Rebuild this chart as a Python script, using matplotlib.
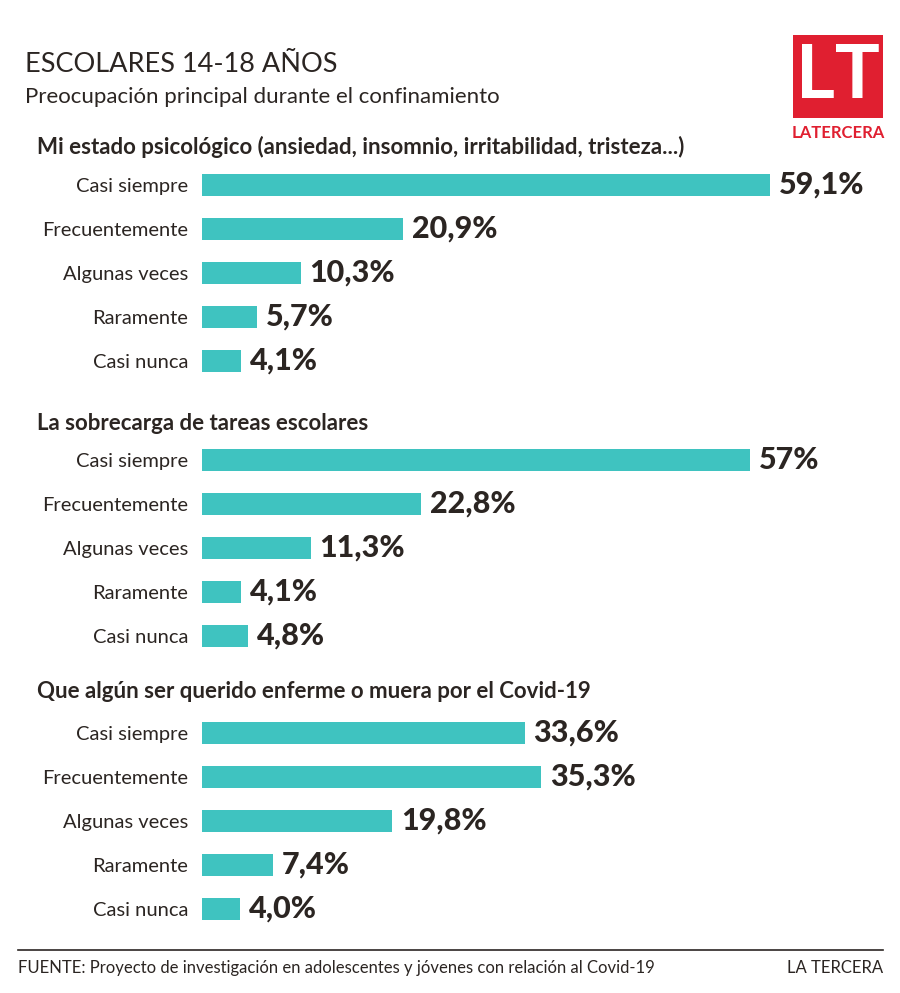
import matplotlib.pyplot as plt
from matplotlib.patches import Rectangle

plt.rcParams['font.family'] = ['Lato', 'DejaVu Sans']

# datos
categorias = ["Casi siempre", "Frecuentemente", "Algunas veces", "Raramente", "Casi nunca"]
grupos = [
    "Mi estado psicológico (ansiedad, insomnio, irritabilidad, tristeza...)",
    "La sobrecarga de tareas escolares",
    "Que algún ser querido enferme o muera por el Covid-19",
]
valores_psico = [59.1, 20.9, 10.3, 5.7, 4.1]
valores_tareas = [57, 22.8, 11.3, 4.1, 4.8]
valores_covid = [33.6, 35.3, 19.8, 7.4, 4.0]
etiquetas_psico = ["59,1%", "20,9%", "10,3%", "5,7%", "4,1%"]
etiquetas_tareas = ["57%", "22,8%", "11,3%", "4,1%", "4,8%"]
etiquetas_covid = ["33,6%", "35,3%", "19,8%", "7,4%", "4,0%"]

valores = [valores_psico, valores_tareas, valores_covid]
etiquetas = [etiquetas_psico, etiquetas_tareas, etiquetas_covid]

TEAL = "#3FC3C0"
TXT = "#2B2522"
ROJO = "#E01F30"

W, H = 900, 993
fig = plt.figure(figsize=(9, 9.93), dpi=100)

def fx(px):
    return px / W

def fy(py):
    return 1 - py / H

# titulo
fig.text(fx(25), fy(65), "ESCOLARES 14-18 AÑOS", fontsize=19.5, color=TXT, va="center")
fig.text(fx(25), fy(97), "Preocupación principal durante el confinamiento", fontsize=16, color=TXT, va="center")

# logo
fig.patches.append(Rectangle((fx(793), fy(118)), fx(90), 83 / H, transform=fig.transFigure,
                             facecolor=ROJO, edgecolor="none"))
fig.text(fx(838), fy(76), "LT", fontsize=54, color="white", ha="center", va="center", fontweight="bold")
fig.text(fx(838), fy(133), "LATERCERA", fontsize=12, color=ROJO, ha="center", va="center", fontweight="bold")

# grupos
tops = [163, 438, 711]
cabeceras = [147, 423, 692]
for g in range(3):
    top = tops[g]
    ax = fig.add_axes([fx(202), fy(top + 220), fx(692), 220 / H])
    y = list(range(len(categorias)))
    ax.barh(y, valores[g], height=0.5, color=TEAL)
    ax.set_xlim(0, 72)
    ax.set_ylim(4.5, -0.5)
    for yi, v, lab in zip(y, valores[g], etiquetas[g]):
        ax.text(v + 0.9, yi, lab, fontsize=22, fontweight="black", color=TXT, va="center", ha="left")
    ax.set_yticks(y)
    ax.set_yticklabels(categorias, fontsize=14.5, color=TXT)
    ax.tick_params(axis="y", length=0, pad=10)
    ax.set_xticks([])
    for s in ax.spines.values():
        s.set_visible(False)
    ax.patch.set_alpha(0)
    fig.text(fx(37), fy(cabeceras[g]), grupos[g], fontsize=16, fontweight="bold", color=TXT, va="center")

# pie
fig.add_artist(plt.Line2D([fx(18), fx(883)], [fy(950), fy(950)], color=TXT, lw=1.2))
fig.text(fx(18), fy(968), "FUENTE: Proyecto de investigación en adolescentes y jóvenes con relación al Covid-19",
         fontsize=12, color=TXT, va="center")
fig.text(fx(883), fy(968), "LA TERCERA", fontsize=12, color=TXT, va="center", ha="right")

fig.savefig("out.png", dpi=100)
